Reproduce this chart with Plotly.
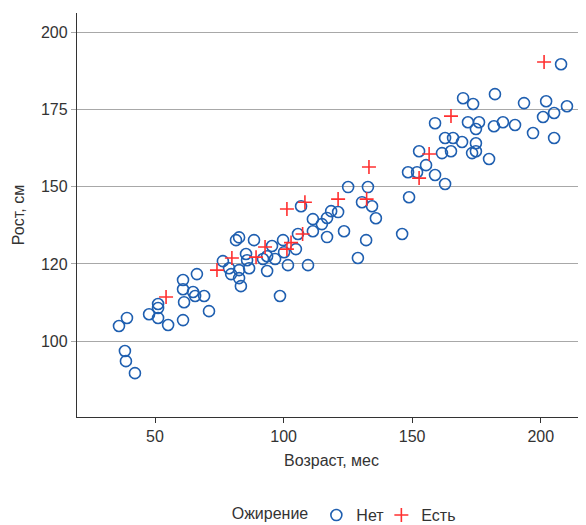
import plotly.graph_objects as go

# Ожирение: Нет (circles)
no_age = [36.0, 39.1, 38.3, 38.7, 42.2, 47.7, 51.2, 51.2, 51.2, 55.1,
          60.9, 60.9, 61.3, 60.9, 66.3, 64.8, 65.6, 69.1, 71.0,
          76.4, 78.8, 79.6, 82.7, 82.7, 83.4, 81.5, 82.7, 85.4, 85.8, 86.6, 88.5,
          92.0, 93.6, 96.7, 93.6, 95.5, 99.8, 100.2, 104.8, 101.7, 109.5, 98.6,
          105.6, 111.4, 116.9, 111.4, 114.9, 116.9, 118.5, 121.2, 123.5, 106.8,
          125.1, 132.8, 130.5, 134.4, 135.9, 132.1, 128.9, 146.1,
          148.8, 148.4, 151.9, 152.7, 155.4, 158.9, 162.8,
          158.9, 169.8, 173.7, 182.2, 171.7, 176.0, 174.8, 181.8, 185.3, 190.0,
          193.5, 202.1, 210.2, 205.2, 200.9, 197.0, 205.2, 207.9,
          162.8, 165.9, 169.4, 174.8, 174.8, 173.3, 165.1, 161.6, 179.9]
no_height = [104.9, 107.5, 96.8, 93.5, 89.6, 108.7, 112.0, 110.7, 107.5, 105.2,
             119.8, 116.8, 112.6, 106.8, 121.7, 115.9, 114.6, 114.6, 109.7,
             125.9, 123.6, 121.7, 123.0, 120.4, 117.8, 132.7, 133.6, 128.2, 126.2, 123.6, 132.7,
             126.6, 127.5, 126.6, 122.7, 130.8, 132.7, 128.8, 129.8, 124.6, 124.6, 114.6,
             134.7, 135.6, 133.7, 139.5, 137.9, 139.9, 142.1, 141.8, 135.6, 143.7,
             149.9, 149.9, 145.0, 143.7, 139.8, 132.7, 126.9, 134.7,
             146.6, 154.7, 154.7, 161.5, 157.0, 153.8, 150.9,
             170.6, 178.7, 176.8, 180.0, 170.9, 170.9, 168.7, 169.6, 170.9, 170.0,
             177.1, 177.7, 176.1, 173.9, 172.6, 167.4, 165.8, 189.7,
             165.8, 165.8, 164.5, 164.1, 161.5, 160.9, 161.5, 160.9, 159.0]

# Ожирение: Есть (crosses)
yes_age = [54.3, 74.1, 79.9, 89.3, 92.8, 101.3, 102.9, 107.4, 101.3, 108.3,
           121.2, 132.3, 133.2, 152.7, 156.6, 165.1, 201.3]
yes_height = [114.3, 123.0, 126.9, 127.2, 130.5, 129.8, 131.9, 134.7, 142.8, 145.0,
              146.0, 146.0, 156.4, 152.8, 160.6, 172.9, 190.4]

y_tickvals = [100, 125, 150, 175, 200]
y_ticktext = ["100", "120", "150", "175", "200"]
x_tickvals = [50, 100, 150, 200]

FONT = "Liberation Sans, Arial, sans-serif"

fig = go.Figure()
fig.add_trace(go.Scatter(
    x=no_age, y=no_height, mode="markers", name="Нет", legendwidth=20,
    marker=dict(symbol="circle-open", size=11, color="#1f5fb0",
                line=dict(width=1.6, color="#1f5fb0")),
))
fig.add_trace(go.Scatter(
    x=yes_age, y=yes_height, mode="markers", name="Есть", legendwidth=44,
    marker=dict(symbol="cross-thin-open", size=10, color="#ff3030",
                line=dict(width=1.6, color="#ff3030")),
))

fig.update_layout(
    width=578, height=517,
    margin=dict(l=69, r=0, t=5, b=108, autoexpand=False),
    paper_bgcolor="white", plot_bgcolor="white",
    font=dict(family=FONT, size=16, color="#333333"),
    showlegend=True,
    legend=dict(orientation="h", x=0.30, xanchor="left", y=-0.243, yanchor="middle",
                title=dict(text="Ожирение", font=dict(size=16)),
                font=dict(size=16), itemwidth=30, tracegroupgap=0,
                bgcolor="rgba(0,0,0,0)"),
    xaxis=dict(range=[19.67, 217.6], tickvals=x_tickvals, showgrid=False,
               showline=True, linecolor="#333333", linewidth=1.3,
               ticks="outside", ticklen=5, tickcolor="#333333", tickwidth=1.2,
               tickfont=dict(size=16), zeroline=False, automargin=False,
               title=dict(text="Возраст, мес", font=dict(size=16), standoff=10)),
    yaxis=dict(range=[75.4, 206.3], tickvals=y_tickvals, ticktext=y_ticktext,
               showgrid=True, gridcolor="#a8a8a8", gridwidth=1.3,
               showline=True, linecolor="#333333", linewidth=1.3,
               ticks="outside", ticklen=5, tickcolor="#a8a8a8", tickwidth=1.3,
               tickfont=dict(size=16), zeroline=False, automargin=False,
               title=dict(text="Рост, см", font=dict(size=16), standoff=12)),
)

fig.write_html("out.html")
